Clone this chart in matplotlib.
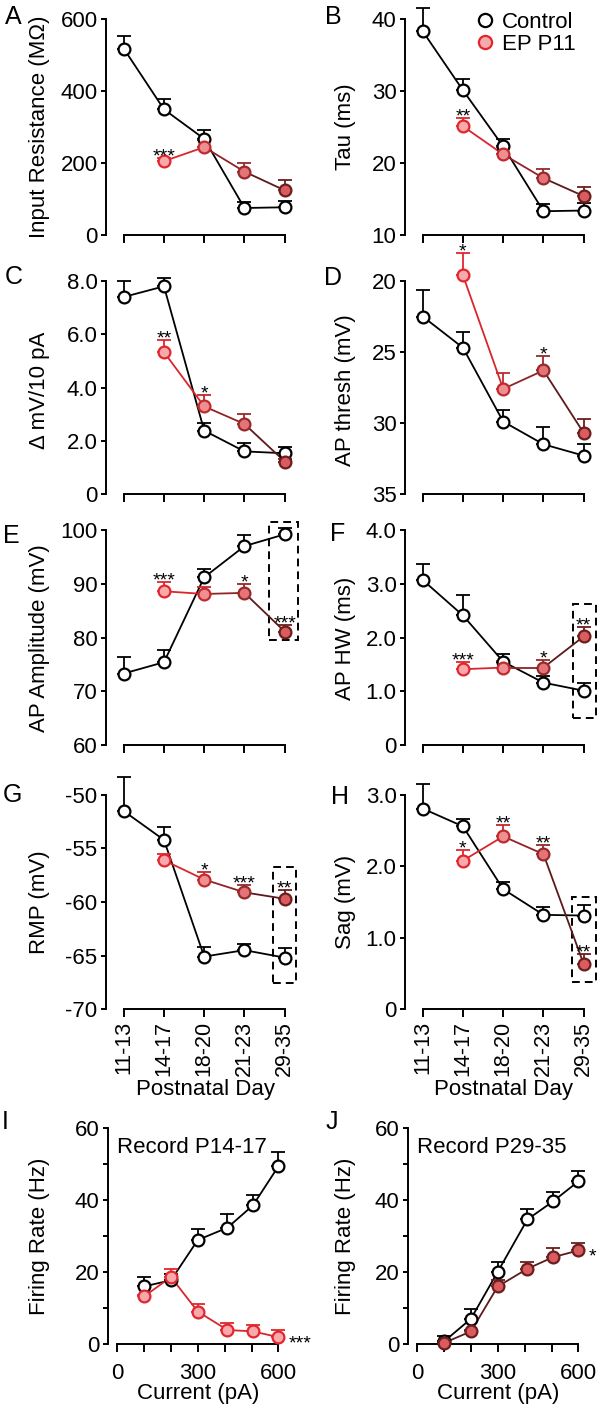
import numpy as np
import matplotlib
matplotlib.use('Agg')
import matplotlib.pyplot as plt
from matplotlib.lines import Line2D
from matplotlib.patches import Rectangle

plt.rcParams['font.family'] = ['Liberation Sans', 'DejaVu Sans']

# ---- data -------------------------------------------------------------
AGE_LABELS = ['11-13', '14-17', '18-20', '21-23', '29-35']
AGE_X = np.arange(5)
EP_X = AGE_X[1:]          # EP P11 animals recorded from P14-17 onward

# A  input resistance (MOhm)
ctrl_rin = [518, 349, 267, 75, 77]
ctrl_rin_err = [34, 30, 24, 18, 18]
ep_rin = [205, 244, 176, 124]
ep_rin_err = [10, 20, 25, 28]
stars_rin = {1: '***'}

# B  tau (ms)
ctrl_tau = [38.3, 30.1, 22.3, 13.3, 13.4]
ctrl_tau_err = [3.2, 1.6, 1.0, 1.0, 1.0]
ep_tau = [25.1, 21.2, 17.9, 15.4]
ep_tau_err = [1.1, 1.0, 1.2, 1.2]
stars_tau = {1: '**'}

# C  delta mV / 10 pA
ctrl_dmv = [7.40, 7.80, 2.38, 1.60, 1.53]
ctrl_dmv_err = [0.6, 0.3, 0.3, 0.3, 0.22]
ep_dmv = [5.33, 3.29, 2.63, 1.22]
ep_dmv_err = [0.44, 0.41, 0.37, 0.08]
stars_dmv = {1: '**', 2: '*'}

# D  AP threshold (mV, axis inverted)
ctrl_thr = [22.5, 24.7, 29.9, 31.5, 32.3]
ctrl_thr_err = [1.9, 1.1, 0.8, 1.2, 0.8]
ep_thr = [19.6, 27.6, 26.3, 30.7]
ep_thr_err = [1.6, 1.1, 1.0, 1.0]
stars_thr = {1: '*', 3: '*'}

# E  AP amplitude (mV)
ctrl_amp = [73.3, 75.4, 91.2, 97.0, 99.2]
ctrl_amp_err = [3.1, 2.2, 1.6, 2.1, 1.1]
ep_amp = [88.6, 88.1, 88.3, 81.1]
ep_amp_err = [1.7, 1.3, 1.7, 1.3]
stars_amp = {1: '***', 3: '*', 4: '***'}

# F  AP half width (ms)
ctrl_hw = [3.07, 2.41, 1.55, 1.16, 1.01]
ctrl_hw_err = [0.30, 0.39, 0.15, 0.12, 0.14]
ep_hw = [1.41, 1.44, 1.44, 2.02]
ep_hw_err = [0.14, 0.13, 0.15, 0.17]
stars_hw = {1: '***', 3: '*', 4: '**'}

# G  resting membrane potential (mV)
ctrl_rmp = [-51.5, -54.2, -65.1, -64.5, -65.2]
ctrl_rmp_err = [3.2, 1.25, 0.85, 0.6, 0.9]
ep_rmp = [-56.1, -57.9, -59.1, -59.7]
ep_rmp_err = [0.6, 0.7, 0.7, 0.8]
stars_rmp = {2: '*', 3: '***', 4: '**'}

# H  sag (mV)
ctrl_sag = [2.81, 2.56, 1.68, 1.32, 1.31]
ctrl_sag_err = [0.35, 0.10, 0.10, 0.11, 0.15]
ep_sag = [2.08, 2.42, 2.17, 0.63]
ep_sag_err = [0.15, 0.16, 0.13, 0.14]
stars_sag = {1: '*', 2: '**', 3: '**', 4: '**'}

# I / J  firing rate vs injected current
current = [100, 200, 300, 410, 505, 600]
ctrl_fr_p14 = [16.0, 17.7, 28.9, 32.3, 38.5, 49.4]
ctrl_fr_p14_err = [2.5, 1.7, 3.1, 3.7, 3.0, 3.9]
ep_fr_p14 = [13.2, 18.6, 9.0, 3.9, 3.5, 1.9]
ep_fr_p14_err = [0.5, 2.3, 2.1, 1.8, 1.9, 2.0]
ctrl_fr_p29 = [0.7, 7.0, 20.1, 34.6, 39.6, 45.2]
ctrl_fr_p29_err = [1.5, 2.8, 2.6, 2.8, 2.6, 2.9]
ep_fr_p29 = [0.3, 3.5, 16.0, 20.9, 24.1, 26.0]
ep_fr_p29_err = [0.5, 0.5, 1.7, 2.0, 2.5, 2.0]

# ---- style ------------------------------------------------------------
EP_FILL = ['#f7a9ac', '#ef8f92', '#e47477', '#da5c5f']
EP_EDGE = ['#e2262d', '#c02a2e', '#962a2b', '#6a1e1e']
EP_SEG = ['#d9262c', '#8f2326', '#5c1a1a']
FS = 16
STAR_FS = 14
LW = 1.4
MS = 8.5

W, H = 600, 1407
fig = plt.figure(figsize=(W / 100, H / 100), dpi=100)


def add_ax(left, top, width, bottom):
    return fig.add_axes([left / W, 1 - bottom / H, width / W, (bottom - top) / H])


def style_ax(ax, xbounds):
    for s in ('top', 'right'):
        ax.spines[s].set_visible(False)
    for s in ('left', 'bottom'):
        ax.spines[s].set_linewidth(LW)
    ax.spines['bottom'].set_bounds(*xbounds)
    ax.tick_params(axis='y', length=3.6, width=LW, pad=2.5, labelsize=FS)
    ax.tick_params(axis='x', length=5.5, width=LW, labelsize=FS)


def set_ylabel(ax, text, xpx, ypx):
    ax.set_ylabel(text, fontsize=FS, va='center')
    ax.yaxis.set_label_coords(xpx / W, 1 - ypx / H, transform=fig.transFigure)


def errbars(ax, x, y, err, color, inverted=False):
    err = np.atleast_1d(err)
    z = np.zeros_like(err)
    yerr = [err, z] if inverted else [z, err]
    eb = ax.errorbar(x, y, yerr=yerr, fmt='none', ecolor=color,
                     elinewidth=1.3, capsize=5, capthick=1.3, zorder=2)
    for a in list(eb.lines[1]) + list(eb.lines[2]):
        a.set_clip_on(False)


def star(ax, x, ytop, text):
    ax.annotate(text, xy=(x, ytop), xytext=(0, -2.5), textcoords='offset points',
                ha='center', va='baseline', fontsize=STAR_FS, zorder=6,
                annotation_clip=False)


def age_panel(ax, ctrl, ctrl_err, ep, ep_err, ylim, yticks, yticklabels, stars,
              inverted=False, box=None, show_xlabels=False):
    ctrl = np.asarray(ctrl); ctrl_err = np.asarray(ctrl_err)
    ep = np.asarray(ep); ep_err = np.asarray(ep_err)
    style_ax(ax, (0, 4))
    ax.set_xlim(-0.44, 4.38)
    if inverted:
        ax.set_ylim(ylim[1], ylim[0])
    else:
        ax.set_ylim(*ylim)
    ax.set_yticks(yticks)
    ax.set_yticklabels(yticklabels)
    ax.set_xticks(AGE_X)
    if show_xlabels:
        ax.set_xticklabels(AGE_LABELS, rotation=90, fontsize=15.5)
        ax.tick_params(axis='x', pad=3)
    else:
        ax.set_xticklabels([])

    # control
    errbars(ax, AGE_X, ctrl, ctrl_err, 'black', inverted)
    ax.plot(AGE_X, ctrl, color='black', lw=1.3, zorder=1, clip_on=False)
    ax.plot(AGE_X, ctrl, 'o', ms=MS, mfc='white', mec='black', mew=1.6,
            zorder=4, clip_on=False)

    # EP P11
    for i in range(len(ep) - 1):
        ax.plot(EP_X[i:i + 2], ep[i:i + 2], color=EP_SEG[i], lw=1.3, zorder=3,
                clip_on=False)
    for i in range(len(ep)):
        errbars(ax, EP_X[i], ep[i], ep_err[i], EP_EDGE[i], inverted)
        ax.plot(EP_X[i], ep[i], 'o', ms=MS, mfc=EP_FILL[i], mec=EP_EDGE[i],
                mew=1.6, zorder=5, clip_on=False)

    for k, txt in stars.items():
        j = k - 1
        top = ep[j] - ep_err[j] if inverted else ep[j] + ep_err[j]
        star(ax, AGE_X[k], top, txt)

    if box is not None:
        x0, x1, y0, y1 = box
        ax.add_patch(Rectangle((x0, y0), x1 - x0, y1 - y0, fill=False,
                               ec='black', lw=LW, ls=(0, (4, 2.6)),
                               clip_on=False, zorder=0))


LEFT_X, RIGHT_X, AX_W = 106, 405, 194
rows = [(19, 235), (281, 494), (530, 745), (795, 1009)]

axA = add_ax(LEFT_X, rows[0][0], AX_W, rows[0][1])
age_panel(axA, ctrl_rin, ctrl_rin_err, ep_rin, ep_rin_err, (0, 600),
          [0, 200, 400, 600], ['0', '200', '400', '600'], stars_rin)
set_ylabel(axA, 'Input Resistance (M\u03a9)', 40, 127)

axB = add_ax(RIGHT_X, rows[0][0], AX_W, rows[0][1])
age_panel(axB, ctrl_tau, ctrl_tau_err, ep_tau, ep_tau_err, (10, 40),
          [10, 20, 30, 40], ['10', '20', '30', '40'], stars_tau)
set_ylabel(axB, 'Tau (ms)', 345, 127)
handles = [Line2D([], [], marker='o', ls='none', ms=MS + 1, mfc='white',
                  mec='black', mew=1.6),
           Line2D([], [], marker='o', ls='none', ms=MS + 1, mfc=EP_FILL[0],
                  mec=EP_EDGE[0], mew=1.6)]
axB.legend(handles, ['Control', 'EP P11'], loc='upper left', frameon=False,
           bbox_to_anchor=(476 / W, 1 - 12 / H), bbox_transform=fig.transFigure,
           fontsize=FS, handlelength=0.8, handletextpad=0.35, labelspacing=0.05,
           borderpad=0, borderaxespad=0)

axC = add_ax(LEFT_X, rows[1][0], AX_W, rows[1][1])
age_panel(axC, ctrl_dmv, ctrl_dmv_err, ep_dmv, ep_dmv_err, (0, 8),
          [0, 2, 4, 6, 8], ['0', '2.0', '4.0', '6.0', '8.0'], stars_dmv)
set_ylabel(axC, '\u0394 mV/10 pA', 40, 390)

axD = add_ax(RIGHT_X, rows[1][0], AX_W, rows[1][1])
age_panel(axD, ctrl_thr, ctrl_thr_err, ep_thr, ep_thr_err, (20, 35),
          [20, 25, 30, 35], ['20', '25', '30', '35'], stars_thr, inverted=True)
set_ylabel(axD, 'AP thresh (mV)', 345, 390)

axE = add_ax(LEFT_X, rows[2][0], AX_W, rows[2][1])
age_panel(axE, ctrl_amp, ctrl_amp_err, ep_amp, ep_amp_err, (60, 100),
          [60, 70, 80, 90, 100], ['60', '70', '80', '90', '100'], stars_amp,
          box=(3.6, 4.32, 79.6, 101.5))
set_ylabel(axE, 'AP Amplitude (mV)', 40, 638)

axF = add_ax(RIGHT_X, rows[2][0], AX_W, rows[2][1])
age_panel(axF, ctrl_hw, ctrl_hw_err, ep_hw, ep_hw_err, (0, 4),
          [0, 1, 2, 3, 4], ['0', '1.0', '2.0', '3.0', '4.0'], stars_hw,
          box=(3.73, 4.3, 0.5, 2.62))
set_ylabel(axF, 'AP HW (ms)', 345, 638)

axG = add_ax(LEFT_X, rows[3][0], AX_W, rows[3][1])
age_panel(axG, ctrl_rmp, ctrl_rmp_err, ep_rmp, ep_rmp_err, (-70, -50),
          [-70, -65, -60, -55, -50], ['-70', '-65', '-60', '-55', '-50'],
          stars_rmp, box=(3.7, 4.27, -67.6, -56.7), show_xlabels=True)
set_ylabel(axG, 'RMP (mV)', 40, 902)
axG.set_xlabel('Postnatal Day', fontsize=FS, va='center')
axG.xaxis.set_label_coords(205 / W, 1 - 1089 / H, transform=fig.transFigure)

axH = add_ax(RIGHT_X, rows[3][0], AX_W, rows[3][1])
age_panel(axH, ctrl_sag, ctrl_sag_err, ep_sag, ep_sag_err, (0, 3),
          [0, 1, 2, 3], ['0', '1.0', '2.0', '3.0'], stars_sag,
          box=(3.7, 4.3, 0.38, 1.57), show_xlabels=True)
set_ylabel(axH, 'Sag (mV)', 345, 902)
axH.set_xlabel('Postnatal Day', fontsize=FS, va='center')
axH.xaxis.set_label_coords(504 / W, 1 - 1089 / H, transform=fig.transFigure)


def fr_panel(ax, ctrl, ctrl_err, ep, ep_err, fill, edge, line, title, star_txt):
    style_ax(ax, (0, 600))
    ax.set_xlim(-34, 680)
    ax.set_ylim(0, 60)
    ax.set_xticks(np.arange(0, 700, 100))
    ax.set_xticklabels(['0', '', '', '300', '', '', '600'])
    ax.set_yticks(np.arange(0, 70, 10))
    ax.set_yticklabels(['0', '', '20', '', '40', '', '60'])
    ax.tick_params(axis='x', pad=8)
    errbars(ax, current, ctrl, ctrl_err, 'black')
    ax.plot(current, ctrl, color='black', lw=1.3, zorder=1, clip_on=False)
    ax.plot(current, ctrl, 'o', ms=MS, mfc='white', mec='black', mew=1.6,
            zorder=4, clip_on=False)
    errbars(ax, current, ep, ep_err, edge)
    ax.plot(current, ep, color=line, lw=1.3, zorder=3, clip_on=False)
    ax.plot(current, ep, 'o', ms=MS, mfc=fill, mec=edge, mew=1.6, zorder=5,
            clip_on=False)
    ax.annotate(star_txt, xy=(current[-1], ep[-1]), xytext=(7, -8),
                textcoords='offset points', ha='left', va='baseline',
                fontsize=STAR_FS, annotation_clip=False)
    ax.text(0, 54.7, title, fontsize=FS, ha='left', va='center')
    ax.set_xlabel('Current (pA)', fontsize=FS)
    ax.set_ylabel('Firing Rate (Hz)', fontsize=FS, va='center')


axI = add_ax(108, 1128, 192, 1344)
fr_panel(axI, ctrl_fr_p14, ctrl_fr_p14_err, ep_fr_p14, ep_fr_p14_err,
         EP_FILL[0], EP_EDGE[0], EP_SEG[0], 'Record P14-17', '***')
axI.yaxis.set_label_coords(40 / W, 1 - 1236 / H, transform=fig.transFigure)
axI.xaxis.set_label_coords(198 / W, 1 - 1394 / H, transform=fig.transFigure)
axI.xaxis.label.set_va('center')

axJ = add_ax(408, 1128, 192, 1344)
fr_panel(axJ, ctrl_fr_p29, ctrl_fr_p29_err, ep_fr_p29, ep_fr_p29_err,
         EP_FILL[3], EP_EDGE[3], EP_SEG[2], 'Record P29-35', '*')
axJ.yaxis.set_label_coords(345 / W, 1 - 1236 / H, transform=fig.transFigure)
axJ.xaxis.set_label_coords(498 / W, 1 - 1394 / H, transform=fig.transFigure)
axJ.xaxis.label.set_va('center')

# panel letters
for letter, xp, yp in [('A', 13, 17), ('B', 333, 17), ('C', 14, 277),
                       ('D', 333, 278), ('E', 11, 536), ('F', 338, 534),
                       ('G', 12, 795), ('H', 340, 797), ('I', 5, 1122),
                       ('J', 332, 1122)]:
    fig.text(xp / W, 1 - yp / H, letter, fontsize=18, ha='center', va='center')

fig.savefig('out.png', dpi=100)
